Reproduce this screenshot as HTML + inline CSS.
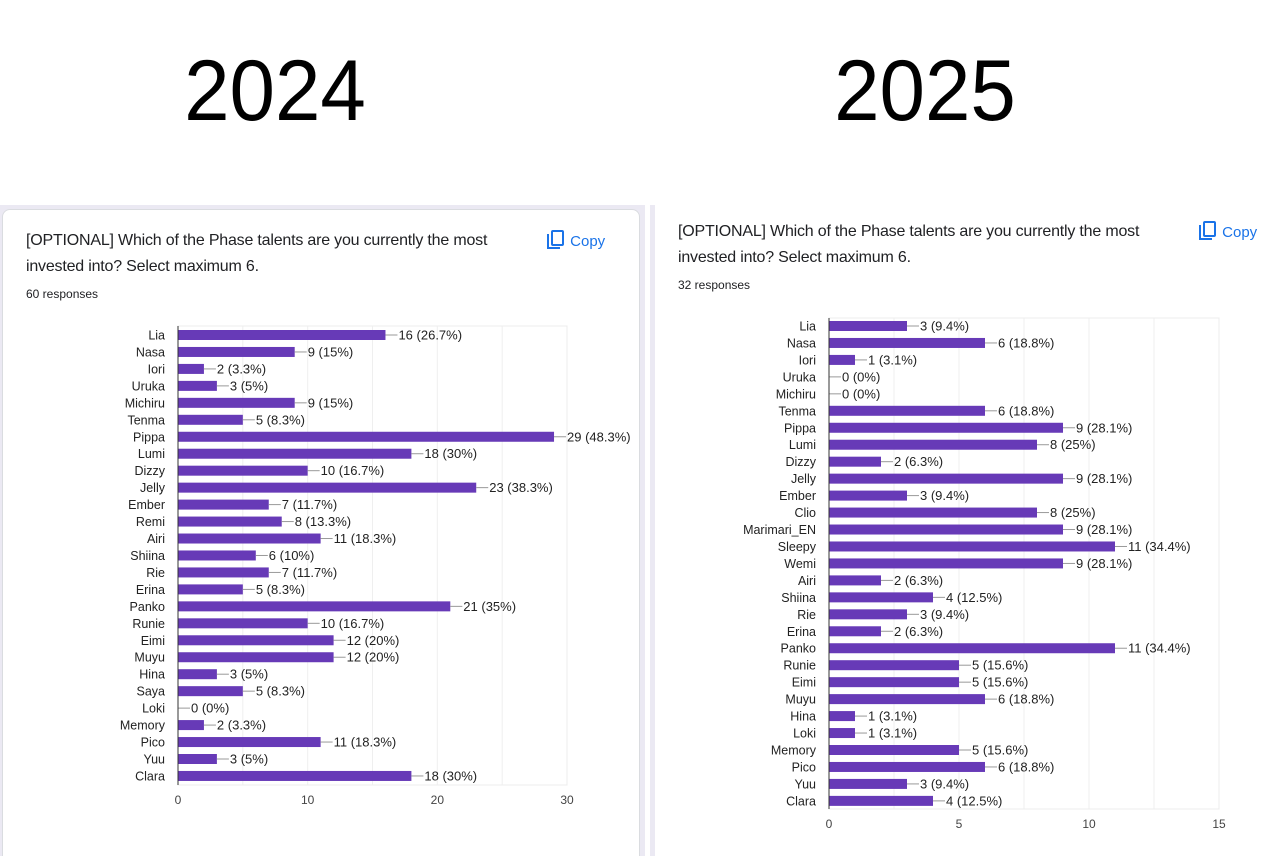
<!DOCTYPE html>
<html><head><meta charset="utf-8">
<style>
html,body{margin:0;width:1283px;height:856px;overflow:hidden}
body{background:#fff;position:relative;font-family:"Liberation Sans",Arial,sans-serif}
.year{position:absolute;top:42px;font-size:86px;color:#000;width:300px;text-align:center;transform:scaleX(0.95)}
.title{position:absolute;font-size:16px;color:#202124;line-height:26px;width:500px;letter-spacing:-0.2px}
.resp{position:absolute;font-size:12px;color:#202124}
.copy{position:absolute;font-size:15px;color:#1a73e8}
svg text{font-family:"Liberation Sans",Arial,sans-serif}
</style></head><body>
<div class="year" style="left:125px">2024</div>
<div class="year" style="left:775px">2025</div>
<div style="position:absolute;left:0;top:205px;width:645px;height:651px;background:#ebe9f3"></div>
<div style="position:absolute;left:650px;top:205px;width:5px;height:651px;background:#ebe9f3"></div>
<div style="position:absolute;left:2px;top:209px;width:636px;height:660px;background:#fff;border:1px solid #dadce0;border-radius:8px"></div>
<div class="title" style="left:26px;top:228px">[OPTIONAL] Which of the Phase talents are you currently the most invested into? Select maximum 6.</div>
<div class="resp" style="left:26px;top:287px">60 responses</div>
<div class="copy" style="left:546px;top:230px"><svg width="20" height="20" viewBox="0 0 20 20" style="vertical-align:-4px"><path d="M2 4v14h12" fill="none" stroke="#1a73e8" stroke-width="2"/><rect x="6" y="1" width="11" height="14" rx="1" fill="none" stroke="#1a73e8" stroke-width="2"/></svg> Copy</div>
<div class="title" style="left:678px;top:219px">[OPTIONAL] Which of the Phase talents are you currently the most invested into? Select maximum 6.</div>
<div class="resp" style="left:678px;top:278px">32 responses</div>
<div class="copy" style="left:1198px;top:221px"><svg width="20" height="20" viewBox="0 0 20 20" style="vertical-align:-4px"><path d="M2 4v14h12" fill="none" stroke="#1a73e8" stroke-width="2"/><rect x="6" y="1" width="11" height="14" rx="1" fill="none" stroke="#1a73e8" stroke-width="2"/></svg> Copy</div>
<svg id="c" width="1283" height="856" style="position:absolute;left:0;top:0"></svg>
<script>
const cats2024=["Lia","Nasa","Iori","Uruka","Michiru","Tenma","Pippa","Lumi","Dizzy","Jelly","Ember","Remi","Airi","Shiina","Rie","Erina","Panko","Runie","Eimi","Muyu","Hina","Saya","Loki","Memory","Pico","Yuu","Clara"];
const vals2024=[16,9,2,3,9,5,29,18,10,23,7,8,11,6,7,5,21,10,12,12,3,5,0,2,11,3,18];
const ticks2024=[0,10,20,30];
const total2024=60;
const cats2025=["Lia","Nasa","Iori","Uruka","Michiru","Tenma","Pippa","Lumi","Dizzy","Jelly","Ember","Clio","Marimari_EN","Sleepy","Wemi","Airi","Shiina","Rie","Erina","Panko","Runie","Eimi","Muyu","Hina","Loki","Memory","Pico","Yuu","Clara"];
const vals2025=[3,6,1,0,0,6,9,8,2,9,3,8,9,11,9,2,4,3,2,11,5,5,6,1,1,5,6,3,4];
const ticks2025=[0,5,10,15];
const total2025=32;
const svg=document.getElementById('c');
const NS='http://www.w3.org/2000/svg';
function el(t,a){const e=document.createElementNS(NS,t);for(const k in a)e.setAttribute(k,a[k]);svg.appendChild(e);return e;}
function pct(v,t){return Math.round(v/t*1000)/10;}
function chart(id,cats,vals,ticks,total,x0,x1,yTop,yBot,firstRow,gridStep){
  const max=ticks[ticks.length-1];
  const sx=v=>x0+(x1-x0)*v/max;
  const step=16.96;
  const sy=i=>firstRow+i*step;
  const bg=el('rect',{x:x0,y:yTop,width:x1-x0,height:yBot-yTop,fill:'none',stroke:'#ececec'});
  
  
  for(let g=gridStep;g<max;g+=gridStep){
    const l=el('line',{x1:sx(g),x2:sx(g),y1:yTop,y2:yBot,stroke:'#efefef'});
    
    
  }
  ticks.forEach(t=>{
    const tx=el('text',{x:sx(t),y:yBot+19,'font-size':12,fill:'#444','text-anchor':'middle'});
    tx.textContent=t;
    
    
  });
  cats.forEach((c,i)=>{
    const y=sy(i);
    const lb=el('text',{x:x0-13,y:y+4.5,'font-size':12.5,fill:'#222','text-anchor':'end'});
    lb.textContent=c;
    
    
    const v=vals[i];
    const b=el('rect',{x:x0,y:y-5,width:sx(v)-x0,height:10,fill:'#673ab7'});
    
    
    const ln=el('line',{x1:sx(v),x2:sx(v)+12,y1:y,y2:y,stroke:'#999'});
    
    
    const vt=el('text',{x:sx(v)+13,y:y+4.5,'font-size':13,fill:'#222'});
    vt.textContent=v+' ('+pct(v,total)+'%)';
    
    
  });
  const ax=el('line',{x1:x0,x2:x0,y1:yTop,y2:yBot,stroke:'#333'});
  
  
}
chart('chart-2024',cats2024,vals2024,ticks2024,total2024,178,567,326,785,335,5);
chart('chart-2025',cats2025,vals2025,ticks2025,total2025,829,1219,318,809,326,2.5);
</script>
</body></html>
